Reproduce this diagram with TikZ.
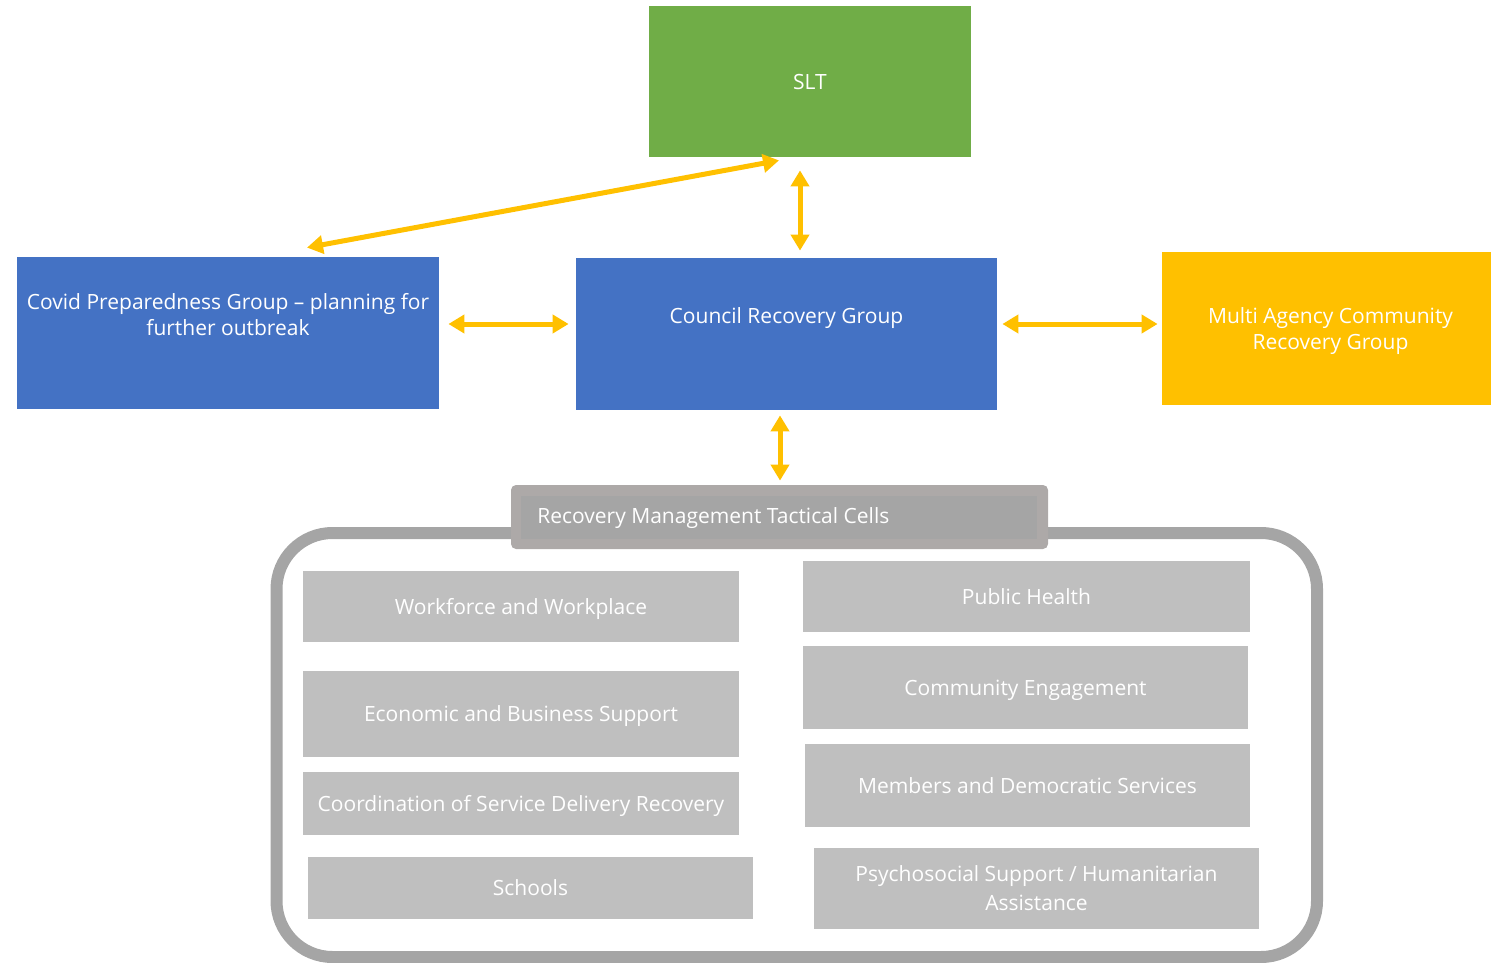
\documentclass[tikz,border=0pt]{standalone}
\usepackage{fontspec}
\setmainfont{Open Sans}
\usetikzlibrary{arrows.meta}
\definecolor{sltgreen}{HTML}{70AD47}
\definecolor{cblue}{HTML}{4472C4}
\definecolor{gold}{HTML}{FFC000}
\definecolor{cellgray}{HTML}{BFBFBF}
\definecolor{framegray}{HTML}{A5A5A5}
\definecolor{headgray}{HTML}{ADA9A8}
\tikzset{
  box/.style={draw=none, inner sep=0pt, text=white, align=center, text depth=0pt,
    font=\fontsize{10.5pt}{13pt}\selectfont},
  lbl/.style={text=white, align=center, text depth=0pt, font=\fontsize{10.5pt}{13pt}\selectfont},
  cell/.style={box, fill=cellgray},
  arr/.style={draw=gold, line width=2.5pt, {Triangle[width=9pt,length=8pt]}-{Triangle[width=9pt,length=8pt]}},
}
\begin{document}
\begin{tikzpicture}[x=0.5pt,y=-0.5pt]
\useasboundingbox (0,0) rectangle (1491,962);
% top level
\node[box, fill=sltgreen, minimum width=161pt, minimum height=75.5pt] (slt) at (810,81.5) {SLT};
\node[box, fill=cblue, minimum width=211pt, minimum height=76pt,
  label={[lbl,yshift=9.5pt]center:Covid Preparedness Group – planning for\\further outbreak}] (covid) at (228,333) {};
\node[box, fill=cblue, minimum width=210.5pt, minimum height=76pt,
  label={[lbl,yshift=9pt]center:Council Recovery Group}] (council) at (786.5,334) {};
\node[box, fill=gold, minimum width=164.5pt, minimum height=76.5pt,
  label={[lbl,xshift=2pt]center:Multi Agency Community\\Recovery Group}] (multi) at (1326.5,328.5) {};
% frame
\draw[framegray, line width=6pt, rounded corners=28pt] (276.5,533) rectangle (1317,957);
% header
\node[box, fill=headgray, rounded corners=2.5pt, minimum width=268.5pt, minimum height=32pt] (head) at (779.5,517) {};
\node[box, fill=framegray, minimum width=258pt, minimum height=21.5pt] (headin) at (779,517.5) {};
\node[lbl, anchor=west, inner sep=0pt] (headtxt) at (537,516) {Recovery Management Tactical Cells};
% cells left
\node[cell, minimum width=218pt, minimum height=35.5pt] (work) at (521,606.5) {Workforce and Workplace};
\node[cell, minimum width=218pt, minimum height=43pt] (econ) at (521,714) {Economic and Business Support};
\node[cell, minimum width=218pt, minimum height=31.5pt] (coord) at (521,803.5) {Coordination of Service Delivery Recovery};
\node[cell, minimum width=222.5pt, minimum height=31pt] (schools) at (530.5,888) {Schools};
% cells right
\node[cell, minimum width=223.5pt, minimum height=35.5pt] (ph) at (1026.5,596.5) {Public Health};
\node[cell, minimum width=222.5pt, minimum height=41.5pt] (ce) at (1025.5,687.5) {Community Engagement};
\node[cell, minimum width=222.5pt, minimum height=41.5pt] (mem) at (1027.5,785.5) {Members and Democratic Services};
\node[cell, minimum width=222.5pt, minimum height=40.5pt, font=\fontsize{10.5pt}{14.5pt}\selectfont] (psy) at (1036.5,888.5) {Psychosocial Support / Humanitarian\\Assistance};
% connectors
\draw[arr] ([shift={(79,-9)}]covid.north) -- ([shift={(-31,3)}]slt.south);
\draw[arr] ([shift={(13.5,13)}]slt.south -| council.north) -- ([shift={(13.5,-7)}]council.north);
\draw[arr] ([shift={(9,-9)}]covid.east) -- ([shift={(-7,-10)}]council.west);
\draw[arr] ([shift={(5,-10)}]council.east) -- ([shift={(-4,-4.5)}]multi.west);
\draw[arr] ([shift={(-6.5,5)}]council.south) -- ([shift={(0.5,-4)}]head.north);
\end{tikzpicture}
\end{document}
